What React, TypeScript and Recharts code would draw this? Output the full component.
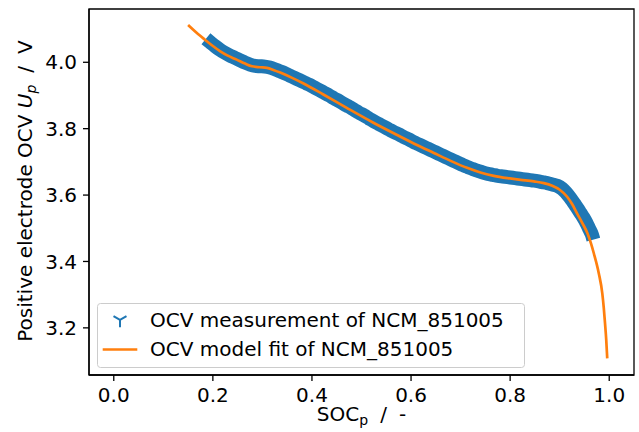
// OCV-Kurve der positiven Elektrode: Messung vs. Modellfit

import { ComposedChart, Legend, Line, ReferenceArea, XAxis, YAxis } from "recharts";

const FONT = "DejaVu Sans, sans-serif";
const BLUE = "#1f77b4";
const ORANGE = "#ff7f0e";

// Messpunkte (SOC_p, U_p)
const measSoc = [
  0.186, 0.195, 0.205, 0.215, 0.225, 0.235, 0.245, 0.255, 0.265, 0.275, 0.285, 0.295, 0.305, 0.315, 0.325,
  0.335, 0.345, 0.355, 0.365, 0.375, 0.385, 0.395, 0.405, 0.415, 0.425, 0.435, 0.445, 0.455, 0.465, 0.475,
  0.485, 0.495, 0.505, 0.515, 0.525, 0.535, 0.545, 0.555, 0.565, 0.575, 0.585, 0.595, 0.605, 0.615, 0.625,
  0.635, 0.645, 0.655, 0.665, 0.675, 0.685, 0.695, 0.705, 0.715, 0.725, 0.735, 0.745, 0.755, 0.765, 0.775,
  0.785, 0.795, 0.805, 0.815, 0.825, 0.835, 0.845, 0.855, 0.865, 0.875, 0.885, 0.895, 0.905, 0.912, 0.918,
  0.924, 0.93, 0.936, 0.942, 0.948, 0.954, 0.96, 0.965, 0.968,
];
const measOcv = [
  4.071, 4.06, 4.048, 4.037, 4.028, 4.02, 4.013, 4.006, 3.999, 3.993, 3.989, 3.988, 3.987, 3.984, 3.979,
  3.973, 3.967, 3.96, 3.953, 3.946, 3.939, 3.932, 3.924, 3.916, 3.908, 3.9, 3.891, 3.883, 3.874, 3.866,
  3.857, 3.848, 3.84, 3.831, 3.822, 3.814, 3.806, 3.798, 3.79, 3.783, 3.775, 3.768, 3.76, 3.753, 3.746,
  3.739, 3.732, 3.725, 3.718, 3.711, 3.704, 3.697, 3.69, 3.684, 3.678, 3.673, 3.668, 3.664, 3.661, 3.658,
  3.656, 3.654, 3.652, 3.65, 3.648, 3.646, 3.644, 3.642, 3.639, 3.636, 3.632, 3.628, 3.619, 3.609, 3.598,
  3.586, 3.573, 3.56, 3.546, 3.532, 3.516, 3.497, 3.481, 3.466,
];

// Modellfit
const fitSoc = [
  0.15, 0.17, 0.184, 0.2, 0.215, 0.23, 0.248, 0.265, 0.279, 0.295, 0.309, 0.322, 0.336, 0.36, 0.383, 0.423,
  0.471, 0.524, 0.572, 0.612, 0.646, 0.68, 0.713, 0.74, 0.767, 0.795, 0.821, 0.848, 0.868, 0.885, 0.9, 0.915,
  0.925, 0.935, 0.946, 0.956, 0.963, 0.969, 0.979, 0.986, 0.989, 0.991, 0.993, 0.994, 0.995, 0.996,
];
const fitOcv = [
  4.112, 4.085, 4.068, 4.049, 4.033, 4.02, 4.008, 3.996, 3.988, 3.985, 3.983, 3.977, 3.969, 3.953, 3.936, 3.903,
  3.862, 3.818, 3.781, 3.751, 3.727, 3.703, 3.682, 3.668, 3.658, 3.651, 3.646, 3.641, 3.636, 3.628, 3.616, 3.595,
  3.573, 3.545, 3.515, 3.485, 3.455, 3.424, 3.364, 3.304, 3.26, 3.223, 3.185, 3.163, 3.135, 3.108,
];

const xTicks = [0, 0.2, 0.4, 0.6, 0.8, 1.0];
const yTicks = [3.2, 3.4, 3.6, 3.8, 4.0];
const xDomain = [-0.05, 1.05];
const yDomain = [3.058, 4.1605];

const measData = measSoc.map((x, i) => ({ x, y: measOcv[i] }));
const fitData = fitSoc.map((x, i) => ({ x, y: fitOcv[i] }));

function TriDown({ cx, cy, r = 7.5 }: { cx: number; cy: number; r?: number }) {
  const dx = 0.866 * r;
  return (
    <path
      d={`M${cx},${cy}L${cx},${cy + r}M${cx},${cy}L${cx - dx},${cy - r / 2}M${cx},${cy}L${cx + dx},${cy - r / 2}`}
      stroke={BLUE}
      strokeWidth={2}
      fill="none"
    />
  );
}

function LegendBox() {
  return (
    <svg width={428} height={65} style={{ display: "block" }}>
      <rect x={0.5} y={0.5} width={427} height={64} rx={3} fill="rgba(255,255,255,0.8)" stroke="#cccccc" />
      <TriDown cx={23} cy={16.8} />
      <text x={53} y={23.7} fontSize={20} fontFamily={FONT} fill="#000">
        OCV measurement of NCM_851005
      </text>
      <line x1={5.7} x2={40.3} y1={46.5} y2={46.5} stroke={ORANGE} strokeWidth={2.7} />
      <text x={53} y={52.7} fontSize={20} fontFamily={FONT} fill="#000">
        OCV model fit of NCM_851005
      </text>
    </svg>
  );
}

function XLabel() {
  return (
    <text x={361.5} y={421} textAnchor="middle" fontSize={20} fontFamily={FONT} fill="#000">
      SOC
      <tspan fontSize={14} dy={4}>p</tspan>
      <tspan dy={-4} dx={12}>/</tspan>
      <tspan dx={12}>-</tspan>
    </text>
  );
}

function YLabel() {
  return (
    <text
      x={32}
      y={191}
      transform="rotate(-90, 32, 191)"
      textAnchor="middle"
      fontSize={20}
      fontFamily={FONT}
      fill="#000"
    >
      Positive electrode OCV{" "}
      <tspan fontStyle="italic">U</tspan>
      <tspan fontStyle="italic" fontSize={14} dy={4}>p</tspan>
      <tspan dy={-4} dx={12}>/</tspan>
      <tspan dx={12}>V</tspan>
    </text>
  );
}

export default function App() {
  return (
    <div style={{ position: "absolute", left: 0, top: 0 }}>
      <ComposedChart width={639} height={432} margin={{ top: 9, right: 5, bottom: 0, left: 0 }}>
        <XAxis
          type="number"
          dataKey="x"
          domain={xDomain}
          ticks={xTicks}
          allowDataOverflow
          height={57}
          tickSize={6}
          tickMargin={7}
          stroke="#000"
          strokeWidth={1.3}
          tick={{ fill: "#000", fontSize: 20, fontFamily: FONT }}
          tickFormatter={(v: number) => v.toFixed(1)}
          label={<XLabel />}
        />
        <YAxis
          type="number"
          dataKey="y"
          domain={yDomain}
          ticks={yTicks}
          allowDataOverflow
          width={89}
          tickSize={6}
          tickMargin={6}
          stroke="#000"
          strokeWidth={1.3}
          tick={{ fill: "#000", fontSize: 20, fontFamily: FONT }}
          tickFormatter={(v: number) => v.toFixed(1)}
          label={<YLabel />}
        />
        <ReferenceArea
          x1={xDomain[0]}
          x2={xDomain[1]}
          y1={yDomain[0]}
          y2={yDomain[1]}
          fill="none"
          stroke="#000"
          strokeWidth={1.3}
          fillOpacity={0}
        />
        {/* Messung: dichte Marker, als breites Band gezeichnet */}
        <Line
          data={measData}
          dataKey="y"
          type="monotone"
          stroke={BLUE}
          strokeWidth={14}
          dot={false}
          activeDot={false}
          isAnimationActive={false}
        />
        <Line
          data={fitData}
          dataKey="y"
          type="monotone"
          stroke={ORANGE}
          strokeWidth={2.7}
          dot={false}
          activeDot={false}
          isAnimationActive={false}
        />
        <Legend
          verticalAlign="middle"
          layout="horizontal"
          wrapperStyle={{ left: 97, top: 303, width: 428, height: 65 }}
          content={() => <LegendBox />}
        />
      </ComposedChart>
    </div>
  );
}
